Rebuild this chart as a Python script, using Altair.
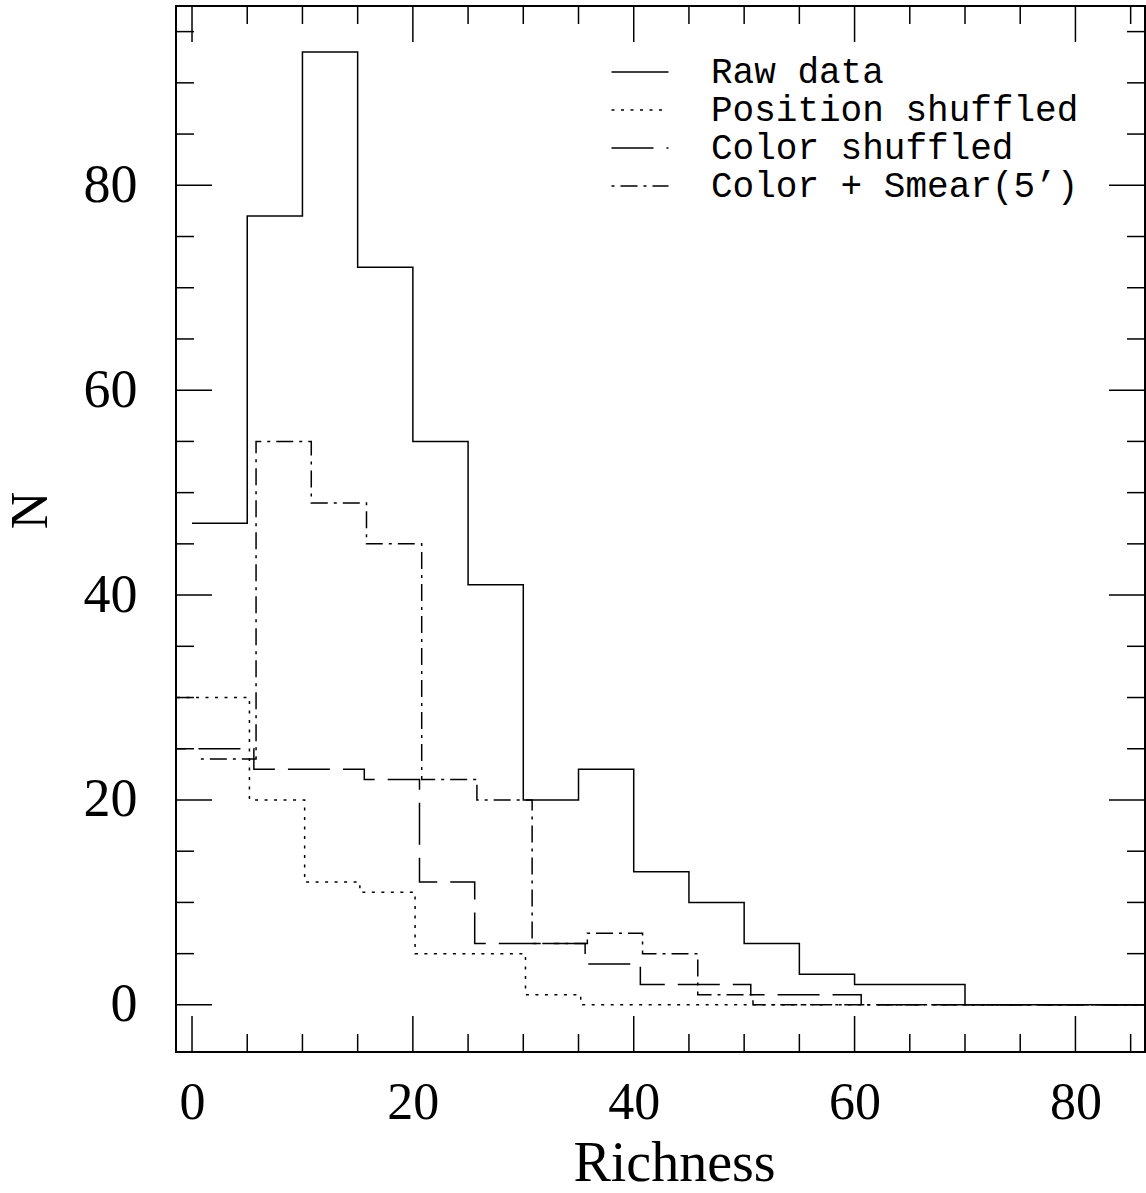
import altair as alt
import pandas as pd

# ---------------- data ----------------
series_names = ["Raw data", "Position shuffled", "Color shuffled", "Color + Smear(5’)"]

raw_edges = [0, 5, 10, 15, 20, 25, 30, 35, 40, 45, 50, 55, 60, 65, 70]
raw_counts = [47, 77, 93, 72, 55, 41, 20, 23, 13, 10, 6, 3, 2, 2, 0]

pos_edges = [-4.8, 0.2, 5.2, 10.2, 15.2, 20.2, 25.2, 30.2, 35.2]
pos_counts = [30, 30, 20, 12, 11, 5, 5, 1, 0]

col_edges = [-4.4, 0.6, 5.6, 10.6, 15.6, 20.6, 25.6, 30.6, 35.6, 40.6, 45.6, 50.6, 55.6, 60.6]
col_counts = [25, 25, 23, 23, 22, 12, 6, 6, 4, 2, 2, 1, 1, 0]

smear_edges = [0.8, 5.8, 10.8, 15.8, 20.8, 25.8, 30.8, 35.8, 40.8, 45.8, 50.8]
smear_counts = [24, 55, 49, 45, 22, 20, 6, 7, 5, 1, 0]

x_last_edge = 95  # histograms continue at 0 past the right frame

x_major = [0, 20, 40, 60, 80]
x_minor = [5, 10, 15, 25, 30, 35, 45, 50, 55, 65, 70, 75, 85]
y_major = [0, 20, 40, 60, 80]
y_minor = [5, 10, 15, 25, 30, 35, 45, 50, 55, 65, 70, 75, 85, 90, 95]

# ---------------- layout / style ----------------
W, H = 969, 1046
MAJ, MIN = 36, 18
dash_styles = [[1, 0], [3, 6.5], [42, 13], [3, 6, 17, 6]]

rows = []
for name, edges, counts in [
    (series_names[0], raw_edges, raw_counts),
    (series_names[1], pos_edges, pos_counts),
    (series_names[2], col_edges, col_counts),
    (series_names[3], smear_edges, smear_counts),
]:
    i = 0
    for e, c in zip(edges, counts):
        rows.append({"series": name, "x": e, "n": c, "i": i})
        i += 1
    rows.append({"series": name, "x": x_last_edge, "n": counts[-1], "i": i})
df = pd.DataFrame(rows)

xs = alt.Scale(domain=[-1.45, 86.3], nice=False, zero=False)
ys = alt.Scale(domain=[-4.6, 97.5], nice=False, zero=False)

x_axis = alt.Axis(
    values=x_major, format="d", ticks=False, tickSize=0, domain=False, grid=False,
    labelFont="Liberation Serif", labelFontSize=52, labelColor="black", labelPadding=25,
    labelFlush=False, labelOverlap=False,
    title="Richness", titleFont="Liberation Serif", titleFontSize=56,
    titleFontWeight="normal", titleColor="black",
    titleX=498, titleY=128, titleAlign="center", titleBaseline="alphabetic",
)
y_axis = alt.Axis(
    values=y_major, format="d", ticks=False, tickSize=0, domain=False, grid=False,
    labelFont="Liberation Serif", labelFontSize=54, labelColor="black", labelPadding=39,
    labelFlush=False, labelOverlap=False,
    title="N", titleFont="Liberation Serif", titleFontSize=52,
    titleFontWeight="normal", titleColor="black", titleAngle=270,
    titleX=-146, titleY=504, titleAlign="center", titleBaseline="middle",
)

lines = alt.Chart(df).mark_line(
    interpolate="step-after", clip=True, strokeWidth=1.5, color="black"
).encode(
    x=alt.X("x:Q", scale=xs, axis=x_axis),
    y=alt.Y("n:Q", scale=ys, axis=y_axis),
    strokeDash=alt.StrokeDash(
        "series:N",
        scale=alt.Scale(domain=series_names, range=dash_styles),
        legend=alt.Legend(
            orient="none", legendX=446, legendY=48, title=None, padding=0,
            labelFont="Liberation Mono", labelFontSize=36, labelColor="black",
            labelOffset=53, rowPadding=2,
            symbolType="M-3,0H3", symbolSize=361, symbolStrokeWidth=1.5,
            symbolStrokeColor="black", labelLimit=0,
        ),
    ),
    order="i:Q",
)


def xticks(vals, y0, y1):
    return alt.Chart(pd.DataFrame({"x": vals})).mark_rule(
        color="black", strokeWidth=1.5
    ).encode(x=alt.X("x:Q", scale=xs, axis=x_axis), y=alt.value(y0), y2=alt.value(y1))


def yticks(vals, x0, x1):
    return alt.Chart(pd.DataFrame({"n": vals})).mark_rule(
        color="black", strokeWidth=1.5
    ).encode(y=alt.Y("n:Q", scale=ys, axis=y_axis), x=alt.value(x0), x2=alt.value(x1))


ticks = [
    xticks(x_major, H, H - MAJ), xticks(x_minor, H, H - MIN),
    xticks(x_major, 0, MAJ), xticks(x_minor, 0, MIN),
    yticks(y_major, 0, MAJ), yticks(y_minor, 0, MIN),
    yticks(y_major, W, W - MAJ), yticks(y_minor, W, W - MIN),
]

chart = alt.layer(lines, *ticks).properties(
    width=W, height=H,
    background="white",
    autosize=alt.AutoSizeParams(type="none"),
    padding={"left": 176, "top": 6, "right": 1, "bottom": 141},
).configure_view(stroke="black", strokeWidth=2)

chart.save("out.html", embed_options={"renderer": "svg", "actions": False})
